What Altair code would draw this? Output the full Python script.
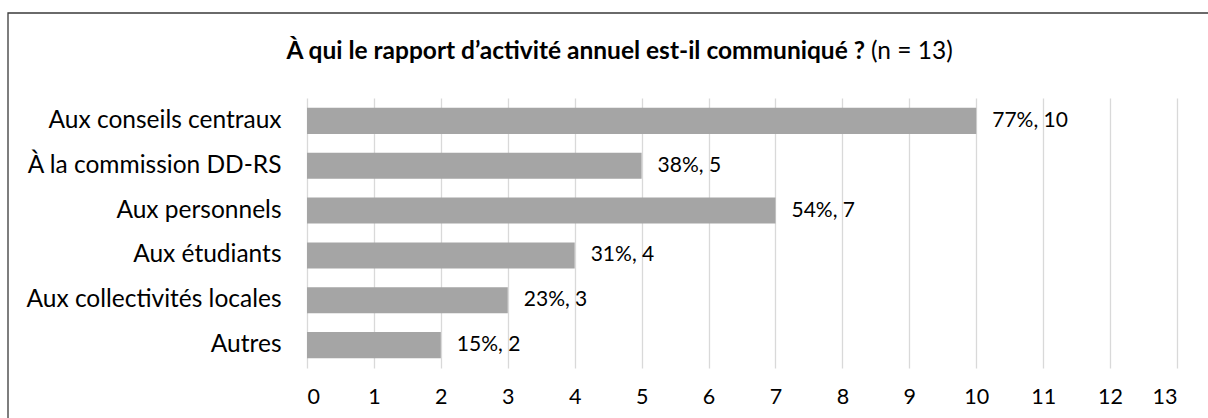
import altair as alt
import pandas as pd

categories = ["Aux conseils centraux", "À la commission DD-RS", "Aux personnels",
              "Aux étudiants", "Aux collectivités locales", "Autres"]
counts = [10, 5, 7, 4, 3, 2]
percents = ["77%", "38%", "54%", "31%", "23%", "15%"]
ticks = list(range(0, 14))

df = pd.DataFrame({"cat": categories, "n": counts, "pct": percents})
df["label"] = df["pct"] + ", " + df["n"].astype(str)

FONT = "Lato"
W, H = 870, 270
LEFT, TOP = 307, 98

base = alt.Chart(df)

y_enc = alt.Y("cat:N", sort=categories, title=None,
              scale=alt.Scale(paddingInner=0.42, paddingOuter=0.22),
              axis=alt.Axis(domain=False, ticks=False, labelFontSize=24.5,
                            labelFont=FONT, labelColor="#000000", labelPadding=26,
                            labelLimit=400))

bars = base.mark_bar(color="#a5a5a5").encode(
    x=alt.X("n:Q", title=None,
            scale=alt.Scale(domain=[0, 13], nice=False),
            axis=alt.Axis(values=ticks, domain=False, ticks=False, grid=True,
                          gridColor="#d9d9d9", gridWidth=1.3, labelFontSize=21.5,
                          labelFont=FONT, labelColor="#000000", labelPadding=18,
                          format="d")),
    y=y_enc,
)

labels = base.mark_text(align="left", baseline="middle", dx=16, font=FONT,
                        fontSize=21, color="#000000").encode(
    x="n:Q", y=alt.Y("cat:N", sort=categories), text="label:N")

title_df = pd.DataFrame({"bold": ["À qui le rapport d’activité annuel est-il communiqué ?"],
                         "normal": ["(n = 13)"]})
t_bold = alt.Chart(title_df).mark_text(align="right", baseline="middle", font=FONT,
                                       fontSize=24.5, fontWeight="bold",
                                       color="#000000").encode(
    x=alt.value(865 - LEFT), y=alt.value(52 - TOP), text="bold:N")
t_norm = alt.Chart(title_df).mark_text(align="left", baseline="middle", font=FONT,
                                       fontSize=24.5, color="#000000").encode(
    x=alt.value(871 - LEFT), y=alt.value(52 - TOP), text="normal:N")

border = alt.Chart(title_df).mark_rect(fill=None, stroke="#3a3a3a", strokeWidth=1.3).encode(
    x=alt.value(8 - LEFT), x2=alt.value(1230 - LEFT),
    y=alt.value(13 - TOP), y2=alt.value(440 - TOP))

chart = alt.layer(border, bars, labels, t_bold, t_norm).properties(
    width=W, height=H,
    autosize=alt.AutoSizeParams(type="none"),
    padding={"left": LEFT, "top": TOP, "right": 1208 - LEFT - W, "bottom": 418 - TOP - H},
    background="white",
).configure_view(stroke=None)

chart.save("out.html", embed_options={"renderer": "svg", "actions": False})
